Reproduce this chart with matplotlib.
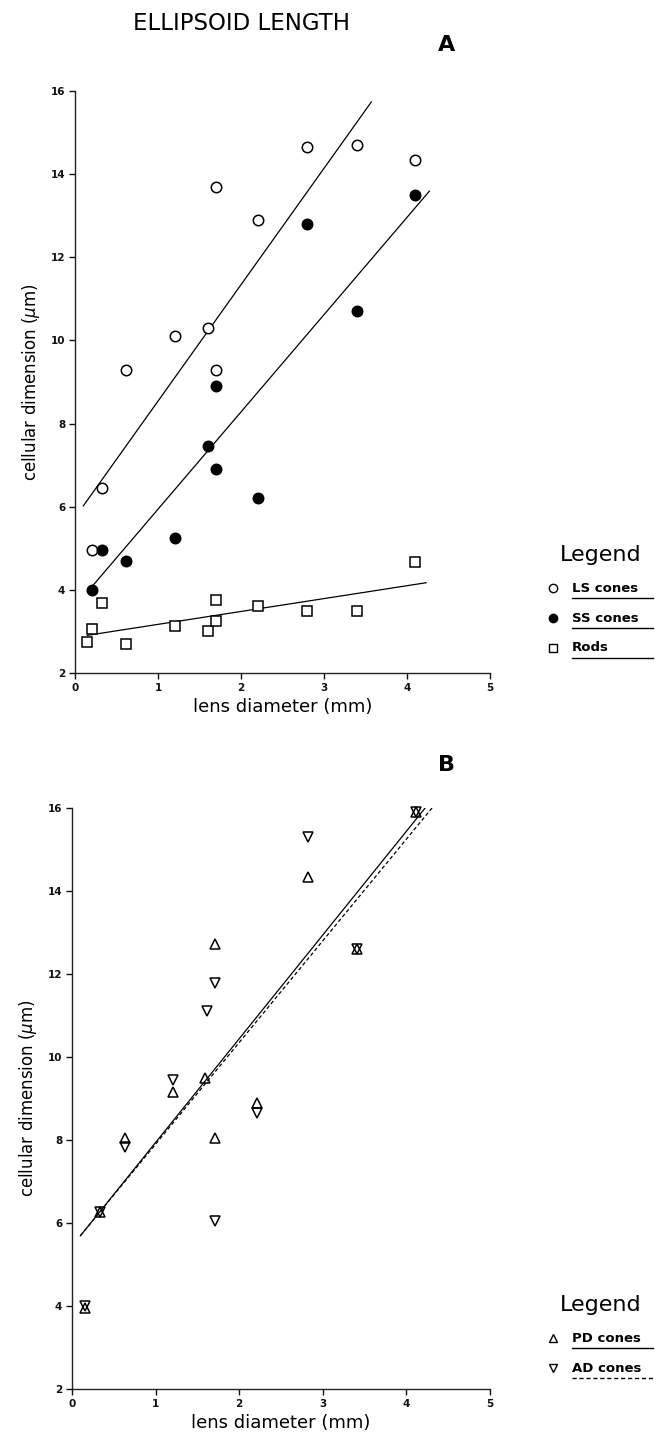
import numpy as np
import matplotlib
matplotlib.use("Agg")
import matplotlib.pyplot as plt
from matplotlib.lines import Line2D

# ---- data ----
# panel A : ellipsoid length vs lens diameter
ls_x = [0.2, 0.33, 0.62, 1.2, 1.6, 1.7, 1.7, 2.2, 2.8, 3.4, 4.1]
ls_y = [4.95, 6.45, 9.3, 10.1, 10.3, 13.7, 9.3, 12.9, 14.65, 14.7, 14.35]
ss_x = [0.2, 0.33, 0.62, 1.2, 1.6, 1.7, 1.7, 2.2, 2.8, 3.4, 4.1]
ss_y = [4.0, 4.95, 4.7, 5.25, 7.45, 8.9, 6.9, 6.2, 12.8, 10.7, 13.5]
rod_x = [0.15, 0.2, 0.33, 0.62, 1.2, 1.6, 1.7, 1.7, 2.2, 2.8, 3.4, 4.1]
rod_y = [2.75, 3.05, 3.68, 2.7, 3.12, 3.0, 3.25, 3.75, 3.62, 3.5, 3.5, 4.68]

# panel B
pd_x = [0.15, 0.34, 0.63, 1.21, 1.59, 1.71, 1.71, 2.21, 2.82, 3.41, 4.11]
pd_y = [3.95, 6.27, 8.06, 9.16, 9.49, 12.72, 8.06, 8.88, 14.34, 12.6, 15.91]
ad_x = [0.15, 0.34, 0.63, 1.21, 1.61, 1.71, 1.71, 2.21, 2.82, 3.41, 4.11]
ad_y = [4.0, 6.27, 7.84, 9.45, 11.12, 11.79, 6.06, 8.65, 15.31, 12.6, 15.91]

# regression lines: slope, intercept, x start, x end
fit_ls = [2.80, 5.74, 0.10, 3.57]
fit_ss = [2.34, 3.60, 0.15, 4.27]
fit_rod = [0.31, 2.86, 0.15, 4.23]
fit_pd = [2.50, 5.44, 0.10, 4.25]
fit_ad = [2.45, 5.45, 0.10, 4.31]

xticks = [0, 1, 2, 3, 4, 5]
yticks = [2, 4, 6, 8, 10, 12, 14, 16]

W, H = 665, 1444
fig = plt.figure(figsize=(W / 100, H / 100), dpi=100)

def px_box(left, top, right, bottom):
    return [left / W, 1 - bottom / H, (right - left) / W, (bottom - top) / H]

def style_axes(ax):
    ax.set_xlim(0, 5)
    ax.set_ylim(2, 16)
    ax.set_xticks(xticks)
    ax.set_yticks(yticks)
    for s in ["top", "right"]:
        ax.spines[s].set_visible(False)
    for s in ["left", "bottom"]:
        ax.spines[s].set_linewidth(1.0)
        ax.spines[s].set_color("#222222")
    ax.tick_params(direction="out", length=4, width=1.0, pad=3,
                   labelsize=7.5, colors="#111111")
    for lab in ax.get_xticklabels() + ax.get_yticklabels():
        lab.set_fontweight("bold")
    ax.set_xlabel("lens diameter (mm)", fontsize=13, labelpad=4)
    ax.set_ylabel(r"cellular dimension ($\mu$m)", fontsize=12, labelpad=6)

def fit_line(ax, fit, **kw):
    xs = np.array([fit[2], fit[3]])
    ax.plot(xs, fit[0] * xs + fit[1], color="black", lw=0.9, **kw)

mk = dict(linestyle="none", markersize=7.5, markeredgewidth=1.1,
          markeredgecolor="black", clip_on=False)

# ---- panel A ----
axA = fig.add_axes(px_box(75, 91, 490, 673))
style_axes(axA)
fit_line(axA, fit_ls)
fit_line(axA, fit_ss)
fit_line(axA, fit_rod)
axA.plot(ls_x, ls_y, marker="o", markerfacecolor="white", **mk)
axA.plot(ss_x, ss_y, marker="o", markerfacecolor="black", **mk)
axA.plot(rod_x, rod_y, marker="s", markerfacecolor="white", **mk)

# ---- panel B ----
axB = fig.add_axes(px_box(72, 808, 490, 1389))
style_axes(axB)
fit_line(axB, fit_pd)
fit_line(axB, fit_ad, linestyle=(0, (3, 2)))
axB.plot(pd_x, pd_y, marker="^", markerfacecolor="none", **mk)
axB.plot(ad_x, ad_y, marker="v", markerfacecolor="none", **mk)

# ---- titles ----
fig.text(241 / W, 1 - 23 / H, "ELLIPSOID LENGTH", ha="center", va="center",
         fontsize=16.5)
fig.text(447 / W, 1 - 45 / H, "A", ha="center", va="center",
         fontsize=16, fontweight="bold")
fig.text(447 / W, 1 - 765 / H, "B", ha="center", va="center",
         fontsize=16, fontweight="bold")

# ---- hand-made legends with underlined labels ----
def legend(top, entries):
    fig.text(560 / W, 1 - top / H, "Legend", ha="left", va="center",
             fontsize=16)
    for i, (marker, face, ls) in enumerate(entries):
        y = top + 33 + 30 * i
        fig.lines.append(Line2D([553 / W], [1 - y / H], marker=marker,
                                markerfacecolor=face, markeredgecolor="black",
                                markersize=6, markeredgewidth=1.0,
                                linestyle="none", transform=fig.transFigure))
        fig.lines.append(Line2D([572 / W, 653 / W], [1 - (y + 10) / H] * 2,
                                color="black", lw=1.0, linestyle=ls,
                                transform=fig.transFigure))

def legend_labels(top, labels):
    for i, lab in enumerate(labels):
        y = top + 33 + 30 * i
        fig.text(572 / W, 1 - y / H, lab, ha="left", va="center",
                 fontsize=9.5, fontweight="bold")

legend(555, [("o", "white", "-"), ("o", "black", "-"), ("s", "white", "-")])
legend_labels(555, ["LS cones", "SS cones", "Rods"])
legend(1305, [("^", "none", "-"), ("v", "none", (0, (3, 2)))])
legend_labels(1305, ["PD cones", "AD cones"])

fig.savefig("out.png", dpi=100, facecolor="white")
